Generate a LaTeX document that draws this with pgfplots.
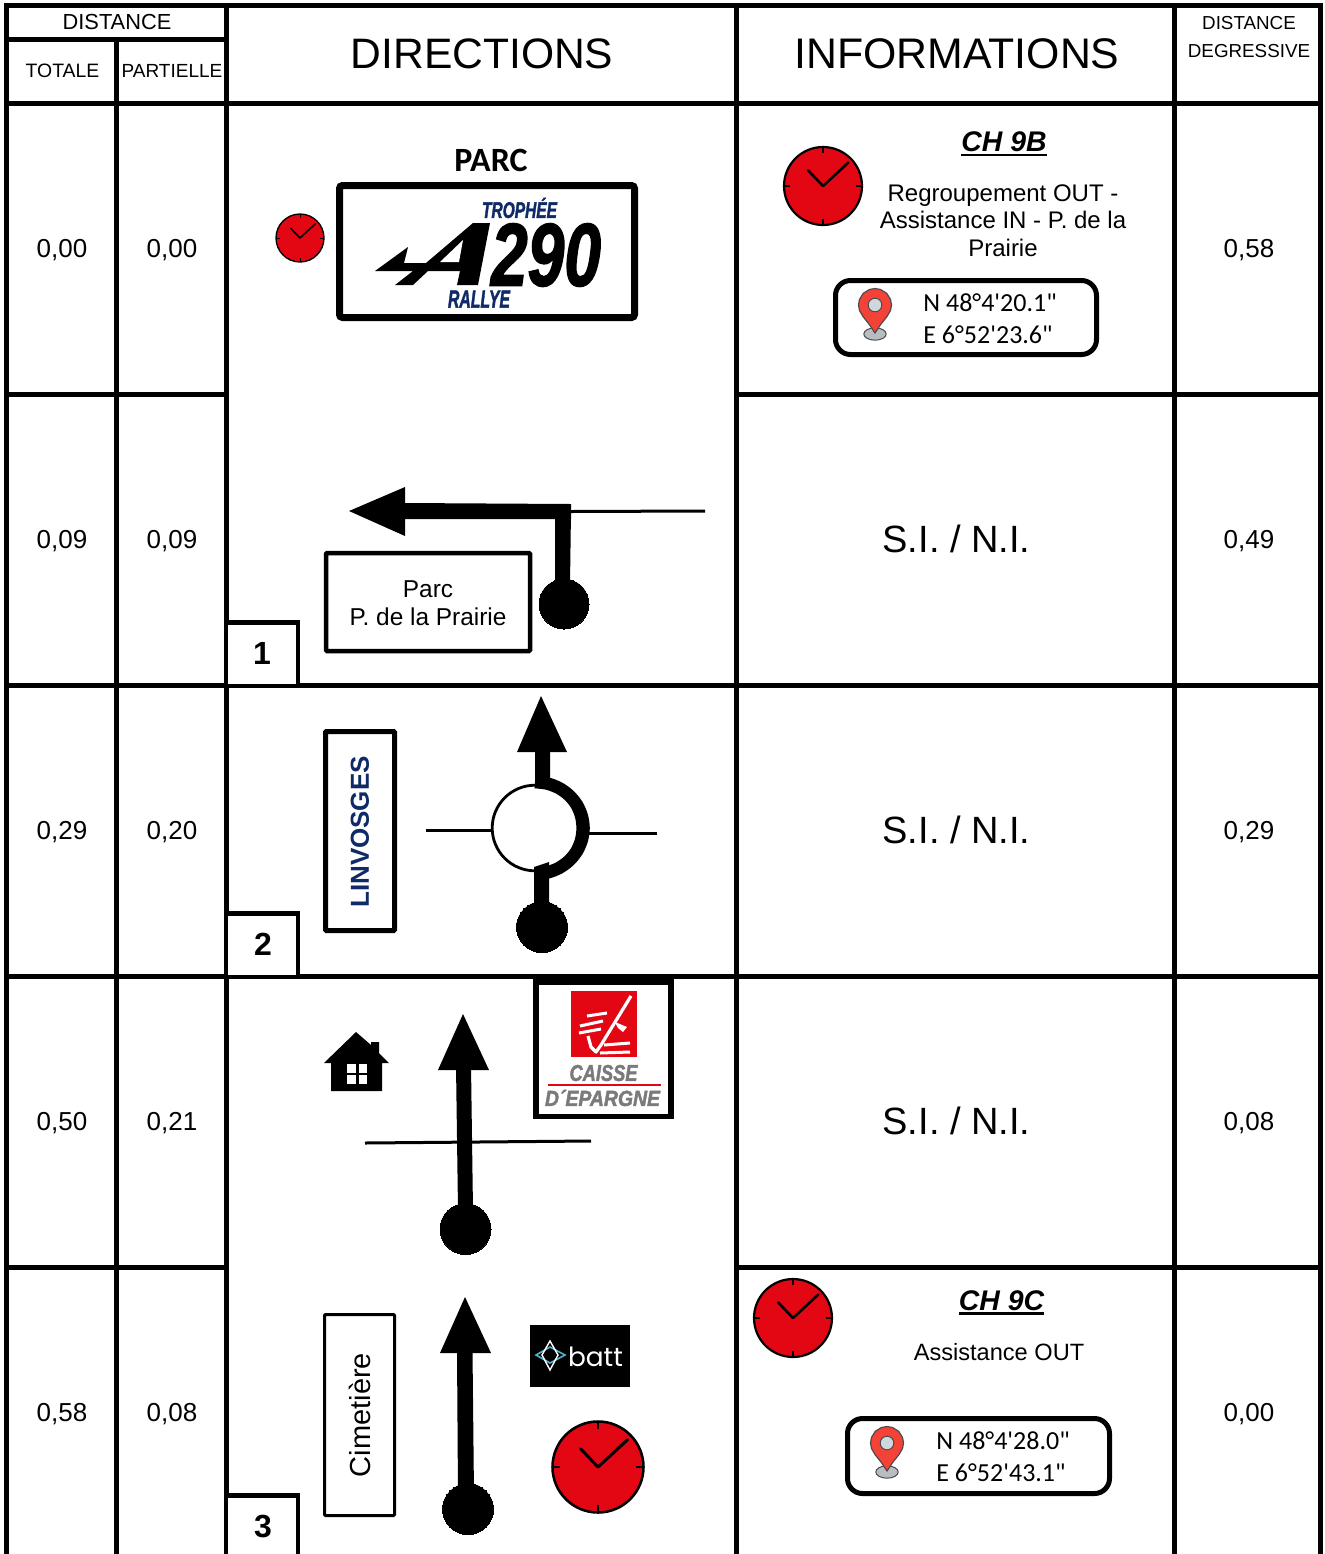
\documentclass[border=0pt]{standalone}
\usepackage{pgfplots}
\pgfplotsset{compat=1.18}
\usepackage{fontspec}
\setmainfont{Liberation Sans}
\newfontfamily\carlito{Carlito}
\newfontfamily\popp{Poppins}
\newfontfamily\heavy{Liberation Sans}[BoldItalicFeatures={FakeBold=2}]
\definecolor{cred}{HTML}{E30613}
\definecolor{pinred}{HTML}{F44336}
\definecolor{pingrey}{HTML}{CFD8DC}
\definecolor{navy}{HTML}{0F2A66}
\definecolor{capgrey}{HTML}{7A7A7A}
\definecolor{battblue}{HTML}{4FB3CC}
% px -> pt: 1 px = 0.5 pt
\newcommand\Seg[2]{\addplot[black,line width=#1*0.5pt] coordinates {#2};}
\newcommand\Poly[2]{\addplot[fill=#1,draw=none] coordinates {#2} --cycle;}
\newcommand\RBox[6][0]{\addplot[black,fill=white,line width=#2*0.5pt,rounded corners=#1*0.5pt] coordinates {(#3,#5) (#4,#5) (#4,#6) (#3,#6)} --cycle;}
\newcommand\RDot[3]{\addplot[only marks,mark=*,mark size=#3*0.5pt,mark options={fill=black,draw=black,line width=0pt}] coordinates {(#1,#2)};}
\newcommand\Tx[4]{\node[inner sep=0pt,font=#3,anchor=center] at (axis cs:#1,#2) {#4};}
\newcommand\Tb[4]{\node[inner sep=0pt,font=#3,anchor=base] at (axis cs:#1,#2) {#4};}
\newcommand\Tw[4]{\node[inner sep=0pt,font=#3,anchor=west] at (axis cs:#1,#2) {#4};}
\newcommand\Ul[1]{\vtop{\hbox{#1}\kern0.9pt\hrule height 1.1pt}}
\newcommand\Clock[3]{%
 \addplot[only marks,mark=*,mark size=#3*0.5pt,mark options={fill=cred,draw=black,line width=#3*0.028pt}] coordinates {(#1,#2)};
 \addplot[black,line width=#3*0.016pt,x filter/.expression={x*#3+#1},y filter/.expression={y*#3+#2}] coordinates {(0,-1) (0,-0.84)};
 \addplot[black,line width=#3*0.016pt,x filter/.expression={x*#3+#1},y filter/.expression={y*#3+#2}] coordinates {(0,1) (0,0.84)};
 \addplot[black,line width=#3*0.016pt,x filter/.expression={x*#3+#1},y filter/.expression={y*#3+#2}] coordinates {(-1,0) (-0.84,0)};
 \addplot[black,line width=#3*0.016pt,x filter/.expression={x*#3+#1},y filter/.expression={y*#3+#2}] coordinates {(1,0) (0.84,0)};
 \addplot[black,line width=#3*0.033pt,line cap=round,line join=round,x filter/.expression={x*#3+#1},y filter/.expression={y*#3+#2}] coordinates {(-0.38,-0.40) (0,0) (0.65,-0.60)};
}
\newcommand\Pin[2]{%
 \addplot[only marks,mark=*,mark size=5.6pt,mark options={xscale=1,yscale=0.55,fill=pingrey!70!gray,draw=black!70,line width=0.5pt},y filter/.expression={y+#2}] coordinates {(#1,29)};
 \addplot[fill=pinred,draw=black!70,line width=0.6pt,x filter/.expression={x+#1},y filter/.expression={y+#2}] coordinates {(0,28) (-6,19) (-12,11.5) (-15.5,5.5) (-16.5,0) (-15.5,-5.6) (-11.7,-11.7) (-5.6,-15.5) (0,-16.5) (5.6,-15.5) (11.7,-11.7) (15.5,-5.6) (16.5,0) (15.5,5.5) (12,11.5) (6,19)} --cycle;
 \addplot[only marks,mark=*,mark size=3.4pt,mark options={fill=pingrey,draw=black!70,line width=0.5pt}] coordinates {(#1,#2)};
}
\begin{document}
\begin{tikzpicture}
\useasboundingbox (0,0) rectangle (662pt,777pt);
\begin{axis}[at={(0,0)},anchor=south west,scale only axis,width=662pt,height=777pt,
  xmin=0,xmax=1324,ymin=0,ymax=1554,y dir=reverse,hide axis,clip mode=individual]

% ---- grid
\Seg{5}{(9,5.5) (1322,5.5)}
\Seg{5}{(6,39.5) (229,39.5)}
\Seg{5}{(6,103) (1322,103)}
\Seg{5}{(6,394.5) (229,394.5)}
\Seg{5}{(736,394.5) (1322,394.5)}
\Seg{5}{(6,685.5) (1322,685.5)}
\Seg{5}{(6,976.5) (1322,976.5)}
\Seg{5}{(6,1267.5) (229,1267.5)}
\Seg{5}{(736,1267.5) (1322,1267.5)}
\Seg{5}{(6.5,3) (6.5,1554)}
\Seg{5}{(116.5,39) (116.5,1554)}
\Seg{5}{(226,3) (226,1554)}
\Seg{5}{(736.5,3) (736.5,1554)}
\Seg{5}{(1174,3) (1174,1554)}
\Seg{5}{(1320,3) (1320,1554)}

% ---- header
\Tx{117}{21.5}{\fontsize{10.9}{13}\selectfont}{DISTANCE}
\Tx{62.5}{71}{\fontsize{9.7}{12}\selectfont}{TOTALE}
\Tx{172}{71}{\fontsize{9.5}{12}\selectfont}{PARTIELLE}
\Tx{482}{53.5}{\fontsize{21.3}{26}\selectfont}{DIRECTIONS}
\Tx{957}{53.5}{\fontsize{21.4}{26}\selectfont}{INFORMATIONS}
\Tx{1249}{23}{\fontsize{9.4}{12}\selectfont}{DISTANCE}
\Tx{1249}{51}{\fontsize{9.4}{12}\selectfont}{DEGRESSIVE}

% ---- distances
\Tx{62}{250}{\fontsize{13}{15}\selectfont}{0,00}
\Tx{172}{250}{\fontsize{13}{15}\selectfont}{0,00}
\Tx{1249}{250}{\fontsize{13}{15}\selectfont}{0,58}
\Tx{62}{541}{\fontsize{13}{15}\selectfont}{0,09}
\Tx{172}{541}{\fontsize{13}{15}\selectfont}{0,09}
\Tx{1249}{541}{\fontsize{13}{15}\selectfont}{0,49}
\Tx{62}{832}{\fontsize{13}{15}\selectfont}{0,29}
\Tx{172}{832}{\fontsize{13}{15}\selectfont}{0,20}
\Tx{1249}{832}{\fontsize{13}{15}\selectfont}{0,29}
\Tx{62}{1123}{\fontsize{13}{15}\selectfont}{0,50}
\Tx{172}{1123}{\fontsize{13}{15}\selectfont}{0,21}
\Tx{1249}{1123}{\fontsize{13}{15}\selectfont}{0,08}
\Tx{62}{1414}{\fontsize{13}{15}\selectfont}{0,58}
\Tx{172}{1414}{\fontsize{13}{15}\selectfont}{0,08}
\Tx{1249}{1414}{\fontsize{13}{15}\selectfont}{0,00}

% ---- S.I. / N.I.
\Tx{956.5}{539}{\fontsize{19}{24}\selectfont}{S.I. / N.I.}
\Tx{956.5}{830}{\fontsize{19}{24}\selectfont}{S.I. / N.I.}
\Tx{956.5}{1121}{\fontsize{19}{24}\selectfont}{S.I. / N.I.}

% ---- row 1: directions
\Tx{491}{160}{\carlito\bfseries\fontsize{17}{19}\selectfont}{PARC}
\RBox[3]{7}{339.5}{634.5}{185.5}{317.5}
\Poly{black}{(375,271) (408,247) (404,263) (426,263) (473,223) (490,223) (478,285) (457,285) (460,271) (428,271) (413,285) (395,285) (413,271)}
\Poly{white}{(440,262) (463,240) (459,262)}
\Tx{546}{255}{\heavy\bfseries\itshape}{\resizebox{55pt}{31pt}{290}}
\Tx{519.5}{208}{\color{navy}\heavy\bfseries\itshape}{\resizebox{37.5pt}{10pt}{TROPHÉE}}
\Tx{479}{299}{\color{navy}\heavy\bfseries\itshape}{\resizebox{31pt}{8.5pt}{RALLYE}}
\Clock{300}{238}{24}

% ---- row 1: informations
\Clock{823}{186}{39}
\Tx{1004}{144}{\bfseries\itshape\fontsize{14.2}{18}\selectfont}{\Ul{CH 9B}}
\Tb{1003}{201}{\fontsize{12}{14}\selectfont}{Regroupement OUT -}
\Tb{1003}{228}{\fontsize{12}{14}\selectfont}{Assistance IN - P. de la}
\Tb{1003}{256}{\fontsize{12}{14}\selectfont}{Prairie}
\RBox[15]{5}{835.5}{1096.5}{280.5}{354.5}
\Pin{875}{305}
\Tw{923}{303}{\carlito\fontsize{13}{15}\selectfont}{N 48°4'20.1"}
\Tw{923}{335}{\carlito\fontsize{13}{15}\selectfont}{E 6°52'23.6"}

% ---- row 2
\Seg{3}{(571,511.5) (705,511)}
\Poly{black}{(349,511) (405,487) (405,536)}
\Poly{black}{(405,503) (571,504) (571,519) (405,519)}
\Poly{black}{(555,510) (571,510) (570,585) (555,585)}
\RDot{564}{604}{25}
\RBox[1]{4.5}{326}{530}{553}{651}
\Tx{428}{589}{\fontsize{12.2}{14}\selectfont}{Parc}
\Tx{428}{617}{\fontsize{12.2}{14}\selectfont}{P. de la Prairie}
\RBox{4.5}{226}{298}{622.5}{686}
\Tx{262}{653}{\bfseries\fontsize{16}{18}\selectfont}{1}

% ---- row 3
\RBox[1]{5}{325.5}{394.5}{731.5}{930.5}
\node[inner sep=0pt,rotate=90,font=\color{navy}\bfseries\fontsize{13}{16}\selectfont] at (axis cs:360,832) {LINVOSGES};
\Seg{3}{(426,830) (493,830)}
\Seg{3}{(589,833) (657,833)}
\addplot[only marks,mark=*,mark size=21.4pt,mark options={fill=white,draw=black,line width=1.4pt}] coordinates {(535,828)};
\addplot[black,line width=6.3pt,smooth] coordinates {(535,782) (547.6,783.6) (559.3,788.2) (569.3,795.5) (577,805) (581.8,816.1) (583.5,828) (581.8,839.9) (577,851) (569.3,860.5) (559.3,867.8) (547.6,872.4) (535,874)};
\Poly{black}{(541,696) (517,752) (567,752)}
\Poly{black}{(535,750) (550,750) (550,780) (535,788)}
\Poly{black}{(534,867) (549,862) (549,907) (534,907)}
\RDot{542}{927}{25.5}
\RBox{4.5}{226}{298}{913.5}{977}
\Tx{263}{944}{\bfseries\fontsize{16}{18}\selectfont}{2}

% ---- row 4
\Seg{3}{(365,1143) (591,1141)}
\Poly{black}{(463,1014) (438,1070) (489,1070)}
\Poly{black}{(456,1065) (471,1065) (473,1210) (458,1210)}
\RDot{465.5}{1229}{25.5}
% house
\Poly{black}{(356,1032) (371,1045) (371,1042) (379,1042) (379,1053) (389,1063) (382,1063) (382,1091) (331,1091) (331,1063) (324,1063)}
\Poly{white}{(347,1064) (356,1064) (356,1073) (347,1073)}
\Poly{white}{(359,1064) (367,1064) (367,1073) (359,1073)}
\Poly{white}{(347,1075) (356,1075) (356,1084) (347,1084)}
\Poly{white}{(359,1075) (367,1075) (367,1084) (359,1084)}
% caisse d'epargne
\RBox{5.5}{536}{671}{982}{1116.5}
\Poly{cred}{(571,991) (637,991) (637,1057) (571,1057)}
\addplot[white,line width=1.6pt,line join=round] coordinates {(588,1036) (591,1047) (596,1052) (601,1045) (631,996)};
\addplot[white,line width=1.5pt] coordinates {(580,1026) (603,1021)};
\addplot[white,line width=1.5pt] coordinates {(579,1033) (601,1029)};
\addplot[white,line width=1.5pt] coordinates {(587,1016) (607,1013)};
\addplot[white,line width=1.5pt] coordinates {(604,1045) (630,1043)};
\addplot[white,line width=1.5pt] coordinates {(600,1053) (630,1052)};
\Poly{white}{(615,1022) (627,1027) (623,1032) (618,1028)}
\Tx{603.5}{1073}{\color{capgrey}\heavy\bfseries\itshape}{\resizebox{34pt}{8pt}{CAISSE}}
\addplot[cred,line width=0.8pt] coordinates {(548,1085) (661,1085)};
\Tx{602.5}{1098}{\color{capgrey}\heavy\bfseries\itshape}{\resizebox{57.5pt}{8pt}{D´EPARGNE}}

% ---- row 5
\RBox[1]{3}{324.5}{394.5}{1314.5}{1515.5}
\node[inner sep=0pt,rotate=90,font=\fontsize{14.5}{16}\selectfont] at (axis cs:360,1415) {Cimetière};
\Poly{black}{(465,1297) (440,1353) (491,1353)}
\Poly{black}{(457,1350) (472.5,1350) (474,1495) (458,1495)}
\RDot{468}{1509}{25.5}
\Poly{black}{(530,1325) (630,1325) (630,1387) (530,1387)}
\addplot[battblue,line width=0.8pt] coordinates {(536,1355) (550,1347) (565,1355) (550,1363)} --cycle;
\addplot[white,line width=0.7pt] coordinates {(550,1341) (558,1355) (550,1370) (542,1355)} --cycle;
\Tx{595.5}{1357}{\popp\color{white}\fontsize{13.2}{16}\selectfont}{batt}
\Clock{598}{1467}{45.5}
\RBox{4.5}{226}{298}{1495.5}{1560}
\Tx{263}{1526}{\bfseries\fontsize{16}{18}\selectfont}{3}

\Clock{793}{1318}{39}
\Tx{1001.5}{1302.5}{\bfseries\itshape\fontsize{14.2}{18}\selectfont}{\Ul{CH 9C}}
\Tb{999}{1360}{\fontsize{11.8}{14}\selectfont}{Assistance OUT}
\RBox[15]{5}{847.5}{1109.5}{1418.5}{1493.5}
\Pin{887}{1443}
\Tw{936}{1441}{\carlito\fontsize{13}{15}\selectfont}{N 48°4'28.0"}
\Tw{936}{1473}{\carlito\fontsize{13}{15}\selectfont}{E 6°52'43.1"}
\end{axis}
\end{tikzpicture}
\end{document}
